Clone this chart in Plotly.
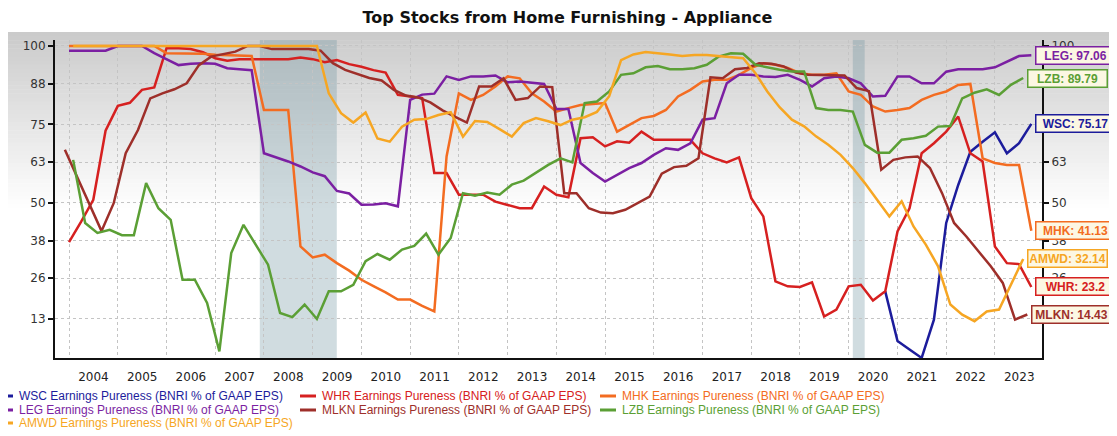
import pandas as pd
import plotly.graph_objects as go

TITLE = "Top Stocks from Home Furnishing - Appliance"
Y_TICKS = [13, 26, 38, 50, 63, 75, 88, 100]
SERIES_SUFFIX = " Earnings Pureness (BNRI % of GAAP EPS)"

# quarterly observation dates (companies report on different fiscal calendars)
dates_cal = pd.date_range("2004-01-01", periods=80, freq="3MS")
dates_mlkn = pd.date_range("2003-12-01", periods=80, freq="3MS")
dates_lzb = pd.date_range("2004-02-01", periods=79, freq="3MS")
dates_wsc = pd.date_range("2020-10-01", periods=13, freq="3MS")

wsc = [21.8, 6.0, 3.3, 0.6, 12.8, 43.6, 55.7, 66.3, 69.5, 72.5, 65.8, 69.0, 75.17]

whr = [37.5, 44, 51, 73, 80.9, 81.9, 86, 86.8, 99.3, 99.3,
       99, 98, 96.1, 95.3, 95.8, 95.8, 95.8, 95.8, 95.8, 96.3,
       95.8, 94.8, 95.5, 94.2, 93.4, 92.3, 91.5, 84.4, 83.9, 83.4,
       59.5, 59.5, 52.6, 52.6, 52.6, 50.4, 49.4, 48.3, 48.3, 55.2,
       52.6, 51.8, 70.6, 70.9, 68.0, 69.6, 69.2, 72.7, 70.1, 70.1,
       70.1, 70.1, 65.8, 64.2, 62.9, 64.5, 51.5, 45.7, 25.0, 23.4,
       23.2, 24.7, 13.8, 16.0, 23.4, 23.9, 18.9, 21.8, 40.9, 48.3,
       65.8, 69.0, 72.7, 77.5, 65.8, 63.2, 36.1, 30.8, 30.5, 23.2]

mhk = [100, 100, 100, 100, 100, 100, 100, 100, 97.7, 97.7,
       97.5, 97.5, 97.2, 97.0, 97.0, 96.8, 79.6, 79.6, 79.6, 36.1,
       32.6, 33.5, 30.8, 28.4, 25.5, 23.5, 21.5, 19.2, 19.2, 17.2,
       15.4, 64.8, 84.9, 82.8, 84.4, 87.1, 90.3, 89.7, 84.9, 82.3,
       79.1, 80.2, 81.2, 81.5, 81.8, 72.7, 74.9, 77.0, 77.7, 79.6,
       83.9, 86.0, 88.7, 89.2, 89.2, 90.8, 93.0, 94.5, 94.0, 93.0,
       91.3, 90.8, 90.8, 91.3, 85.5, 84.4, 80.7, 79.1, 79.6, 80.2,
       82.8, 84.4, 85.5, 87.6, 87.9, 64.2, 62.7, 62.1, 62.1, 41.13]

leg = [98.5, 98.5, 98.5, 98.5, 100, 100, 100, 97.7, 95.8, 93.9,
       94.3, 94.5, 94.3, 92.9, 92.6, 92.3, 65.8, 64.6, 63.2, 61.6,
       59.7, 58.5, 53.8, 53.0, 49.4, 49.5, 49.9, 48.9, 82.8, 84.5,
       84.8, 90.3, 89.2, 90.3, 90.3, 90.6, 88.4, 88.7, 88.4, 87.9,
       79.9, 79.9, 62.7, 59.5, 56.8, 59.0, 61.1, 62.7, 65.3, 67.4,
       66.9, 69.0, 76.5, 77.0, 88.1, 90.8, 90.8, 90.3, 90.1, 90.8,
       89.2, 87.1, 89.7, 90.3, 89.7, 88.1, 83.9, 84.1, 90.3, 90.3,
       88.1, 88.1, 91.8, 92.6, 92.6, 92.6, 93.2, 95.0, 96.8, 97.06]

mlkn = [66.9, 58.2, 49.5, 41.0, 49.9, 65.8, 73.2, 83.3, 84.9, 86.2,
        88.1, 93.9, 96.6, 97.5, 98.2, 100, 100, 99, 99, 99,
        99, 98.5, 94.5, 92.4, 91.0, 89.8, 89.0, 86.0, 84.2, 83.6,
        82.0, 79.5, 77.5, 75.6, 87.1, 87.1, 89.7, 82.8, 83.4, 87.1,
        86.9, 53.1, 53.1, 48.3, 46.9, 46.7, 47.8, 49.9, 52.0, 59.3,
        61.4, 61.8, 64.2, 90.0, 89.7, 92.6, 93.0, 94.5, 94.3, 93.5,
        91.5, 90.8, 90.8, 90.8, 90.6, 86.6, 85.6, 60.6, 63.7, 64.5,
        64.8, 61.1, 53.1, 43.6, 39.3, 34.5, 29.8, 24.5, 12.8, 14.43]

lzb = [63.7, 43.6, 40.4, 41.4, 39.7, 39.7, 56.3, 48.3, 44.6, 25.5,
       25.5, 18.1, 2.7, 34.0, 43.0, 36.7, 30.3, 14.9, 13.6, 17.6,
       13.0, 21.8, 21.8, 23.9, 31.4, 33.7, 31.9, 35.1, 36.3, 40.2,
       33.5, 38.8, 53.1, 52.3, 53.3, 52.6, 55.8, 57.1, 59.5, 62.1,
       64.2, 62.9, 81.8, 82.3, 85.5, 90.8, 91.3, 93.2, 93.6, 92.6,
       92.6, 92.9, 94.0, 96.6, 97.7, 97.5, 94.0, 93.2, 92.4, 91.9,
       91.9, 80.2, 79.6, 79.6, 79.1, 68.5, 66.0, 66.0, 70.1, 70.6,
       71.4, 74.3, 74.5, 83.3, 85.1, 86.2, 84.4, 87.6, 89.79]

amwd = [100, 100, 100, 100, 100, 100, 100, 100, 100, 100,
        100, 100, 100, 100, 100, 100, 100, 100, 100, 100,
        100, 84.9, 78.6, 75.6, 78.8, 70.5, 69.5, 74.3, 76.5, 76.7,
        78.0, 78.9, 71.1, 76.1, 75.8, 73.5, 71.1, 75.4, 77.0, 76.0,
        74.8, 76.5, 77.3, 79.0, 84.0, 95.5, 97.3, 98.1, 97.8, 97.3,
        96.8, 97.1, 97.1, 96.8, 96.4, 96.1, 91.3, 85.5, 80.5, 76.5,
        74.4, 71.2, 68.5, 65.3, 61.1, 56.3, 51.0, 45.7, 50.5, 42.5,
        36.7, 29.8, 17.6, 14.4, 12.3, 15.4, 16.0, 23.9, 32.14]

recessions = [("2007-12-01", "2009-06-30"), ("2020-02-01", "2020-04-30")]

# ticker, values, dates, color  (legend order: rows of three)
series = [
    ("WSC", wsc, dates_wsc, "#1c1c9c"),
    ("WHR", whr, dates_cal, "#d62020"),
    ("MHK", mhk, dates_cal, "#f36c21"),
    ("LEG", leg, dates_cal, "#7b1fa2"),
    ("MLKN", mlkn, dates_mlkn, "#9e2f2a"),
    ("LZB", lzb, dates_lzb, "#5b9f35"),
    ("AMWD", amwd, dates_lzb, "#f6a623"),
]

# ---------------- layout geometry ----------------
# the page body has an 8px margin, so the figure is drawn from (8, 8)
OFF = 8
SCREEN_W, SCREEN_H = 1117, 436
W, H = SCREEN_W - OFF, SCREEN_H - OFF
# plot area in screen pixels: x 55..1042, y 40..358
ML, MT = 55 - OFF, 40 - OFF
MR, MB = W - (1042 - OFF), H - (358 - OFF)
PW, PH = W - ML - MR, H - MT - MB


def sx(p):  # screen x pixel -> paper x
    return (p - OFF - ML) / PW


def sy(p):  # screen y pixel -> paper y
    return (H - MB - (p - OFF)) / PH


fig = go.Figure()

for tk, vals, dts, col in series:
    fig.add_trace(go.Scatter(
        x=list(dts.strftime("%Y-%m-%d")), y=vals, mode="lines", name=tk + SERIES_SUFFIX,
        line=dict(color=col, width=2.5), showlegend=False,
    ))

# invisible trace so the right-hand value axis is drawn
fig.add_trace(go.Scatter(x=[dates_cal[0].strftime("%Y-%m-%d")], y=[None], yaxis="y2",
                         mode="lines", showlegend=False, hoverinfo="skip"))

shapes = []
# soft grey gradient behind the upper part of the chart
N = 44
top_px, bot_px = 32, 212
for k in range(N):
    p0 = top_px + (bot_px - top_px) * k / N
    p1 = top_px + (bot_px - top_px) * (k + 1) / N
    t = k / (N - 1)
    c = int(round(203 + (255 - 203) * t))
    shapes.append(dict(type="rect", xref="paper", yref="paper",
                       x0=sx(0), x1=sx(SCREEN_W + 10),
                       y0=sy(p1 + 0.5), y1=sy(p0),
                       line=dict(width=0), fillcolor=f"rgb({c},{c},{c})", layer="below"))
# recession shading
for a, b in recessions:
    shapes.append(dict(type="rect", xref="x", yref="paper", x0=a, x1=b, y0=0, y1=1,
                       line=dict(width=0), fillcolor="rgba(110,145,158,0.32)", layer="below"))

annotations = []
# end-of-line value labels
for tk, vals, dts, col in series:
    annotations.append(dict(
        x=dts[-1].strftime("%Y-%m-%d"), y=vals[-1], xref="x", yref="y",
        text=f"<b>{tk}: {vals[-1]:g}</b>", showarrow=False,
        xanchor="left", yanchor="middle", xshift=4,
        font=dict(family="Liberation Sans, Arial, sans-serif", size=12, color=col),
        bgcolor="#fcf7e3", bordercolor=col, borderwidth=1.5, borderpad=1,
        width=76, height=14, align="center",
    ))

# legend (three columns of coloured entries)
col_text_x = [17, 320, 620]
row_y = [396, 410, 423]
for idx, (tk, vals, dts, col) in enumerate(series):
    r, c = divmod(idx, 3)
    annotations.append(dict(
        x=sx(col_text_x[c]), y=sy(row_y[r]), xref="paper", yref="paper",
        text=tk + SERIES_SUFFIX, showarrow=False, xanchor="left", yanchor="middle",
        font=dict(family="Liberation Sans, Arial, sans-serif", size=12, color=col),
    ))
    x_end = col_text_x[c] - 4
    x_start = max(x_end - 16, OFF)
    shapes.append(dict(type="line", xref="paper", yref="paper",
                       x0=sx(x_start), x1=sx(x_end),
                       y0=sy(row_y[r]), y1=sy(row_y[r]),
                       line=dict(color=col, width=3)))

tick_font = dict(family="DejaVu Sans, Verdana, sans-serif", size=12, color="#333333")
yaxis_common = dict(
    range=[0.57, 101.9], tickvals=Y_TICKS, ticktext=[str(v) for v in Y_TICKS],
    showline=True, linecolor="#111111", linewidth=2, ticks="outside", ticklen=5,
    tickcolor="#111111", tickwidth=1.5, tickfont=tick_font, zeroline=False,
)

fig.update_layout(
    width=W, height=H,
    margin=dict(l=ML, r=MR, t=MT, b=MB, pad=0),
    paper_bgcolor="white", plot_bgcolor="white",
    title=dict(text=f"<b>{TITLE}</b>", x=(567.5 - OFF) / W, xanchor="center", xref="container",
               y=1 - (17 - OFF) / H, yanchor="middle", yref="container",
               font=dict(family="DejaVu Sans, Verdana, sans-serif", size=16, color="#111111")),
    xaxis=dict(
        type="date", range=["2003-09-18", "2023-12-20"],
        tick0="2004-01-01", dtick="M12", tickformat="%Y", ticklabelmode="period",
        showgrid=True, gridcolor="#c4c4c4", gridwidth=1, griddash="3px,3px",
        showline=True, linecolor="#111111", linewidth=2,
        ticks="outside", ticklen=7, tickcolor="rgba(0,0,0,0)",
        tickfont=dict(family="DejaVu Sans, Verdana, sans-serif", size=12, color="#222222"),
        zeroline=False,
    ),
    yaxis=dict(**yaxis_common, showgrid=True, gridcolor="#c4c4c4", gridwidth=1, griddash="3px,3px"),
    yaxis2=dict(**yaxis_common, overlaying="y", side="right", showgrid=False),
    shapes=shapes,
    annotations=annotations,
    showlegend=False,
)

fig.write_html("out.html")
